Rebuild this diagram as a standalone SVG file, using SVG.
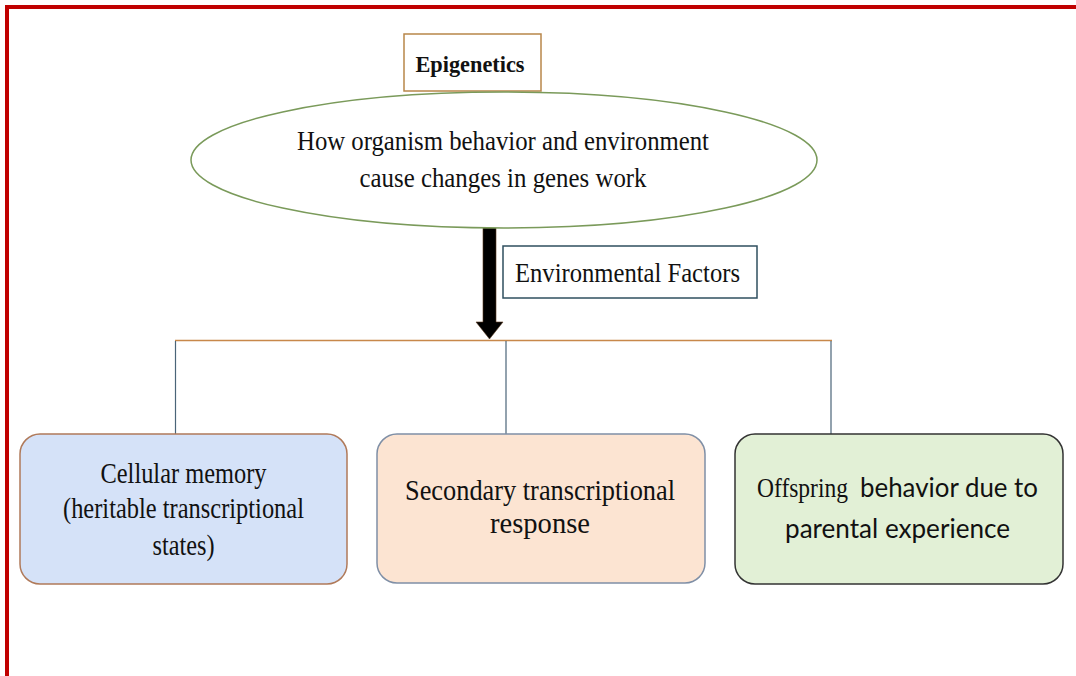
<svg xmlns="http://www.w3.org/2000/svg" width="1076" height="676" viewBox="0 0 1076 676">
  <style>
    .serif { font-family: "Liberation Serif", "Times New Roman", serif; fill: #111; }
    .sans { font-family: Lato, "Liberation Sans", sans-serif; fill: #111; }
    .conn { fill: none; stroke: #4a6478; stroke-width: 1.2; }
    .bar { fill: none; stroke: #c8884a; stroke-width: 1.5; }
    .box { stroke-width: 1.5; }
  </style>
  <rect width="1076" height="676" fill="#ffffff"/>
  <!-- red frame -->
  <g id="frame" fill="#c00000">
    <rect x="5" y="5" width="1071" height="4"/>
    <rect x="5" y="5" width="4" height="671"/>
  </g>

  <g id="connectors">
    <line class="bar" x1="175" y1="340.5" x2="832" y2="340.5"/>
    <line class="conn" x1="175.5" y1="341" x2="175.5" y2="434"/>
    <line class="conn" x1="506" y1="341" x2="506" y2="434"/>
    <line class="conn" x1="831" y1="341" x2="831" y2="434"/>
    <!-- thick arrow -->
    <path d="M483,228 L496,228 L496,322 L503,322 L489.5,339 L476,322 L483,322 Z" fill="#000" stroke="#5a3a20" stroke-width="0.6"/>
  </g>

  <g id="epigenetics">
    <rect x="404" y="34" width="137" height="57" fill="#fff" stroke="#b8864a" stroke-width="1.5"/>
    <text class="serif" x="470" y="72" font-size="23" font-weight="bold" text-anchor="middle" textLength="109" lengthAdjust="spacingAndGlyphs">Epigenetics</text>
  </g>

  <g id="definition">
    <ellipse cx="504" cy="160" rx="313" ry="68" fill="#fff" stroke="#7a9a5a" stroke-width="1.5"/>
    <text class="serif" x="503" y="150" font-size="28" text-anchor="middle" textLength="412" lengthAdjust="spacingAndGlyphs">How organism behavior and environment</text>
    <text class="serif" x="503" y="187" font-size="28" text-anchor="middle" textLength="287" lengthAdjust="spacingAndGlyphs">cause changes in genes work</text>
  </g>

  <g id="environmental-factors">
    <rect x="503" y="246" width="254" height="52" fill="#fff" stroke="#2f4f5f" stroke-width="1.5"/>
    <text class="serif" x="627.5" y="282" font-size="27" text-anchor="middle" textLength="225" lengthAdjust="spacingAndGlyphs">Environmental Factors</text>
  </g>

  <g id="cellular-memory">
    <rect class="box" x="20" y="434" width="327" height="150" rx="20" fill="#d5e2f8" stroke="#b07a5a"/>
    <text class="serif" x="183.5" y="483" font-size="29" text-anchor="middle" textLength="166" lengthAdjust="spacingAndGlyphs">Cellular memory</text>
    <text class="serif" x="183.5" y="518" font-size="29" text-anchor="middle" textLength="241" lengthAdjust="spacingAndGlyphs">(heritable transcriptional</text>
    <text class="serif" x="183.5" y="555" font-size="29" text-anchor="middle" textLength="62" lengthAdjust="spacingAndGlyphs">states)</text>
  </g>

  <g id="secondary-response">
    <rect class="box" x="377" y="434" width="328" height="149" rx="20" fill="#fce4d2" stroke="#7f8fa6"/>
    <text class="serif" x="540" y="500" font-size="29" text-anchor="middle" textLength="270" lengthAdjust="spacingAndGlyphs">Secondary transcriptional</text>
    <text class="serif" x="540" y="533" font-size="29" text-anchor="middle" textLength="100" lengthAdjust="spacingAndGlyphs">response</text>
  </g>

  <g id="offspring-behavior">
    <rect class="box" x="735" y="434" width="328" height="150" rx="20" fill="#e2f0d6" stroke="#333333"/>
    <text x="757" y="497" font-size="27"><tspan class="serif" textLength="91" lengthAdjust="spacingAndGlyphs">Offspring</tspan><tspan class="sans" x="860" textLength="178" lengthAdjust="spacingAndGlyphs">behavior due to</tspan></text>
    <text class="sans" x="897.5" y="538" font-size="27" text-anchor="middle" textLength="225" lengthAdjust="spacingAndGlyphs">parental experience</text>
  </g>
</svg>
